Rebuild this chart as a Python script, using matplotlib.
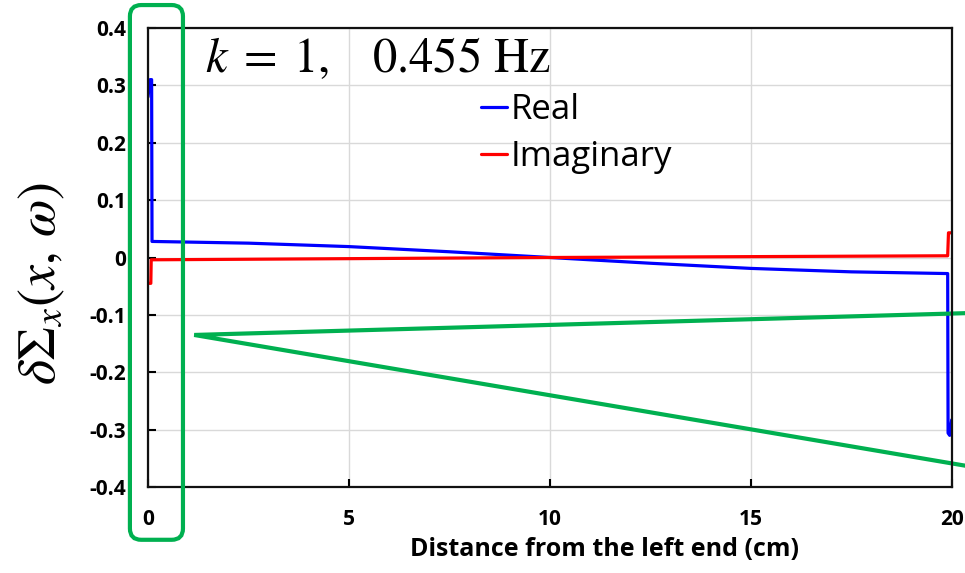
import matplotlib
matplotlib.use("Agg")
import matplotlib.pyplot as plt
from matplotlib.patches import FancyBboxPatch

plt.rcParams['font.family'] = ['Open Sans', 'DejaVu Sans']
plt.rcParams['mathtext.fontset'] = 'stix'

# ---- data ----
real_x = [0.0, 0.05, 0.09, 0.1, 2.5, 5.0, 7.5, 10.0, 12.5, 15.0, 17.5, 19.9, 19.91, 19.95, 20.0]
real_y = [0.28, 0.31, 0.31, 0.028, 0.025, 0.019, 0.010, 0.0, -0.010, -0.019, -0.025, -0.028, -0.306, -0.31, -0.283]

imag_x = [0.0, 0.07, 0.08, 10.0, 19.9, 19.92, 20.0]
imag_y = [-0.045, -0.045, -0.004, 0.0, 0.003, 0.043, 0.043]

x_ticks = [0, 5, 10, 15, 20]
y_ticks = [0.4, 0.3, 0.2, 0.1, 0.0, -0.1, -0.2, -0.3, -0.4]
y_tick_labels = ['0.4', '0.3', '0.2', '0.1', '0', '-0.1', '-0.2', '-0.3', '-0.4']

# annotation callout (data coordinates)
callout_x = [20.35, 1.15, 20.35]
callout_y = [-0.097, -0.135, -0.363]
box_x0, box_x1 = -0.45, 0.87
box_y0, box_y1 = -0.492, 0.44

W, H = 965, 573
fig = plt.figure(figsize=(W/100, H/100), dpi=100)
ax = fig.add_axes([148/W, 1-487/H, (951.7-148)/W, (487-28)/H])

ax.set_xlim(0, 20)
ax.set_ylim(-0.4, 0.4)

ax.plot(real_x, real_y, color='#0000ff', lw=2.3, label='Real', solid_capstyle='round', solid_joinstyle='round')
ax.plot(imag_x, imag_y, color='#ff0000', lw=2.3, label='Imaginary', solid_capstyle='round', solid_joinstyle='round')

ax.set_xticks(x_ticks)
ax.set_xticklabels([str(t) for t in x_ticks], fontweight='bold', fontsize=15)
ax.set_yticks(y_ticks)
ax.set_yticklabels(y_tick_labels, fontweight='bold', fontsize=15)
ax.tick_params(direction='in', length=6, width=1.5, color='black')
ax.tick_params(axis='y', pad=16)
ax.tick_params(axis='x', pad=16)
ax.grid(True, color='#d9d9d9', lw=1)
ax.set_axisbelow(True)
for s in ax.spines.values():
    s.set_color('#111111')
    s.set_linewidth(1.6)

fig.text(605/W, 1-556/H, 'Distance from the left end (cm)', fontweight='bold', fontsize=18,
         ha='center', va='baseline')
fig.text(41/W, 1-283/H, r'$\delta\Sigma_x(x,\,\omega)$', fontsize=39, rotation=90,
         ha='center', va='center')

ax.text(1.42, 0.323, r'$k\;=\;1,\quad 0.455\ \mathrm{Hz}$', fontsize=35, va='baseline', ha='left')

leg = ax.legend(loc='upper left', bbox_to_anchor=((481-148)/803.7, (487-93)/459), frameon=False, fontsize=25,
                handlelength=0.75, handletextpad=0.1, labelspacing=0.38, borderaxespad=0,
                borderpad=0)

# callouts
ax.plot(callout_x, callout_y, color='#00b050', lw=3, clip_on=False, solid_joinstyle='miter')
px_per_x = (951.7-148)/20
px_per_y = (487-28)/0.8
box = FancyBboxPatch((box_x0, box_y0), box_x1-box_x0, box_y1-box_y0,
                     boxstyle='round,pad=0,rounding_size=0.28',
                     mutation_aspect=px_per_x/px_per_y,
                     fill=False, edgecolor='#00b050', lw=3, clip_on=False, zorder=5)
ax.add_patch(box)

fig.savefig('out.png', dpi=100)
